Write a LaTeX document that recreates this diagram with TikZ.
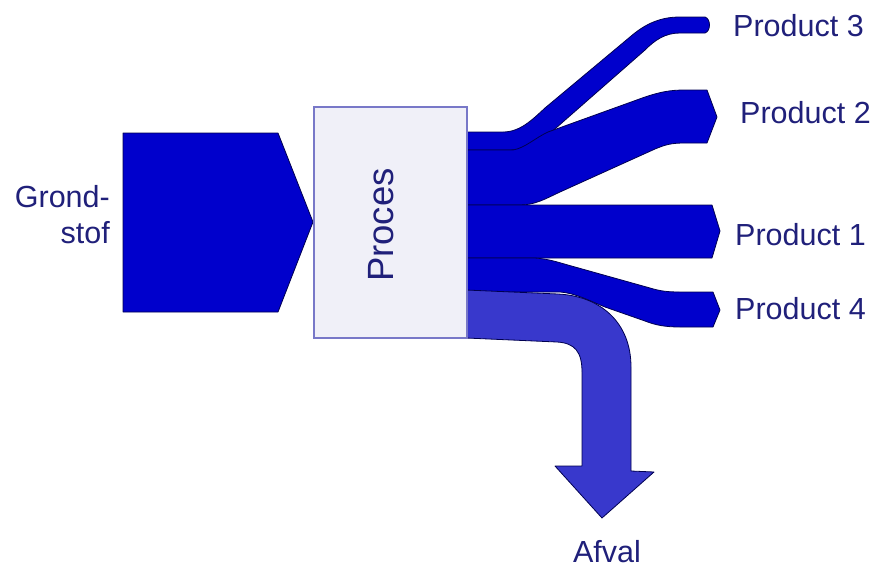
\documentclass[tikz,border=0pt]{standalone}
\usepackage{fontspec}
\setmainfont{Liberation Sans}
\definecolor{flowblue}{RGB}{0,0,204}
\definecolor{wasteblue}{RGB}{56,56,204}
\definecolor{edgeblue}{RGB}{0,0,80}
\definecolor{boxfill}{RGB}{240,240,248}
\definecolor{boxedge}{RGB}{120,120,200}
\definecolor{labelblue}{RGB}{32,32,122}
\begin{document}
\begin{tikzpicture}[x=1pt,y=-1pt,
  flow/.style={fill=flowblue,draw=edgeblue,line width=0.8pt,line join=round},
  waste/.style={fill=wasteblue,draw=edgeblue,line width=0.8pt,line join=round},
  procbox/.style={fill=boxfill,draw=boxedge,line width=1.2pt},
  lbl/.style={text=labelblue,inner sep=0pt,font=\fontsize{30.5}{34}\selectfont},
]
\useasboundingbox (0,0) rectangle (884,571);

% raw material input
\path[flow] (123,133) -- (278,133) -- (313,222) -- (278,312) -- (123,312) -- cycle;

% Product 3 (thin band rising to the top)
\path[flow] (466,132) -- (503,132)
  .. controls (520,132) and (532,120) .. (545,108) -- (630,37)
  .. controls (645,24) and (660,17) .. (680,17) -- (705,17)
  .. controls (711,19) and (711,31) .. (705,33) -- (680,33)
  .. controls (665,33) and (655,40) .. (645,50) -- (556,128)
  .. controls (540,142) and (525,150) .. (510,150) -- (466,150) -- cycle;

% Product 2
\path[flow] (466,150) -- (513,150)
  .. controls (525,148) and (535,138) .. (548,132) -- (645,97)
  .. controls (660,92) and (670,90) .. (685,90) -- (707,90)
  -- (717,117) -- (707,143) -- (685,143)
  .. controls (670,143) and (665,145) .. (655,149) -- (560,192)
  .. controls (545,199) and (535,205) .. (520,205) -- (466,205) -- cycle;

% Product 1 (straight band)
\path[flow] (466,205) -- (712,205) -- (720,231) -- (712,258) -- (466,258) -- cycle;

% Product 4
\path[flow] (466,258) -- (535,258)
  .. controls (550,259) and (560,263) .. (575,267) -- (650,288)
  .. controls (660,291) and (667,292) .. (680,292) -- (713,292)
  -- (720,310) -- (713,327) -- (680,327)
  .. controls (665,327) and (655,325) .. (645,321) -- (605,307)
  .. controls (590,301) and (575,293) .. (560,292) -- (466,292) -- cycle;

% waste stream bending down into an arrow
\path[waste] (466,290) -- (558,294)
  .. controls (600,296) and (631,322) .. (631,367) -- (631,471)
  -- (654,472) -- (602,518) -- (555,466) -- (582,466) -- (582,372)
  .. controls (582,352) and (575,343) .. (557,342) -- (466,338) -- cycle;

% process box
\path[procbox] (314,107) rectangle (467,338);
\node[lbl,font=\fontsize{36.5}{40}\selectfont,rotate=90] (proces) at (381.5,225) {Proces};

% labels
\node[lbl,anchor=base east] (grond) at (110,207) {Grond-};
\node[lbl,anchor=base east] (stof) at (110,243) {stof};
\node[lbl,anchor=base west] (p3) at (733,36) {Product 3};
\node[lbl,anchor=base west] (p2) at (740,123) {Product 2};
\node[lbl,anchor=base west] (p1) at (735,245) {Product 1};
\node[lbl,anchor=base west] (p4) at (735,319) {Product 4};
\node[lbl,anchor=base] (afval) at (607,562) {Afval};
\end{tikzpicture}
\end{document}
